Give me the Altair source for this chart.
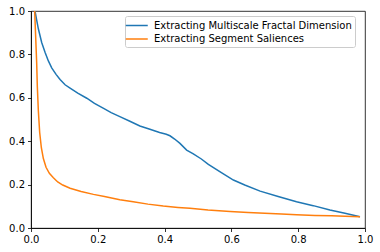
import altair as alt
import pandas as pd

series_names = ["Extracting Multiscale Fractal Dimension", "Extracting Segment Saliences"]
series_colors = ["#1f77b4", "#ff7f0e"]

x_fractal = [0.012, 0.017, 0.022, 0.032, 0.042, 0.052, 0.062, 0.075, 0.087, 0.102, 0.117, 0.140, 0.167,
             0.190, 0.216, 0.240, 0.266, 0.296, 0.326, 0.356, 0.385, 0.405, 0.416, 0.430, 0.446,
             0.466, 0.486, 0.510, 0.531, 0.570, 0.606, 0.640, 0.686, 0.740, 0.795, 0.845, 0.895, 0.940, 0.985]
y_fractal = [1.000, 0.958, 0.918, 0.855, 0.810, 0.770, 0.738, 0.708, 0.684, 0.660, 0.645, 0.622, 0.598,
             0.574, 0.552, 0.532, 0.513, 0.492, 0.470, 0.455, 0.440, 0.432, 0.425, 0.410, 0.390,
             0.359, 0.342, 0.318, 0.293, 0.255, 0.221, 0.198, 0.170, 0.145, 0.121, 0.103, 0.083, 0.068, 0.052]

x_segment = [0.011, 0.014, 0.017, 0.019, 0.022, 0.026, 0.031, 0.037, 0.045, 0.055, 0.067, 0.080, 0.095,
             0.117, 0.150, 0.187, 0.220, 0.266, 0.306, 0.350, 0.396, 0.440, 0.476, 0.530, 0.596,
             0.650, 0.700, 0.750, 0.795, 0.850, 0.900, 0.940, 0.985]
y_segment = [1.000, 0.880, 0.760, 0.650, 0.540, 0.440, 0.370, 0.320, 0.280, 0.252, 0.232, 0.212, 0.198,
             0.183, 0.168, 0.155, 0.145, 0.130, 0.121, 0.110, 0.101, 0.095, 0.091, 0.083, 0.076,
             0.072, 0.068, 0.064, 0.061, 0.058, 0.056, 0.054, 0.052]

x_ticks = [0.0, 0.2, 0.4, 0.6, 0.8, 1.0]
y_ticks = [0.0, 0.2, 0.4, 0.6, 0.8, 1.0]

rows = []
for i, (xv, yv) in enumerate(zip(x_fractal, y_fractal)):
    rows.append({"x": xv, "y": yv, "series": series_names[0], "order": i})
for i, (xv, yv) in enumerate(zip(x_segment, y_segment)):
    rows.append({"x": xv, "y": yv, "series": series_names[1], "order": i})
df = pd.DataFrame(rows)

font = "DejaVu Sans"
fs = 10

axis_common = dict(
    title=None, grid=False, format=".1f", labelFont=font, labelFontSize=fs,
    labelColor="black", domainColor="black", domainWidth=0.8, tickColor="black",
    tickWidth=0.8, tickSize=3.5, labelFlush=False, labelOverlap=False,
)

chart = alt.Chart(df).mark_line(strokeWidth=1.5, clip=True).encode(
    x=alt.X("x:Q", scale=alt.Scale(domain=[0, 1], nice=False, zero=False),
            axis=alt.Axis(values=x_ticks, labelPadding=3, **axis_common)),
    y=alt.Y("y:Q", scale=alt.Scale(domain=[0, 1], nice=False, zero=False),
            axis=alt.Axis(values=y_ticks, labelPadding=3, **axis_common)),
    color=alt.Color("series:N", scale=alt.Scale(domain=series_names, range=series_colors),
                    legend=alt.Legend(title=None, orient="none", legendX=94, legendY=5,
                                      symbolType="M-1.59,0H2.41", symbolSize=121,
                                      symbolStrokeWidth=1.5,
                                      labelFont=font, labelFontSize=fs, labelColor="black",
                                      labelOffset=13, strokeColor="#cccccc", cornerRadius=2,
                                      fillColor="rgba(255,255,255,0.8)", padding=3,
                                      rowPadding=1.5, labelLimit=400)),
    order="order:Q",
).properties(
    width=334, height=217, autosize="none",
    padding={"left": 31, "top": 11, "right": 15, "bottom": 24},
).configure_view(stroke="black", strokeWidth=0.8)

chart.save("out.html", embed_options={"renderer": "svg", "actions": False})
